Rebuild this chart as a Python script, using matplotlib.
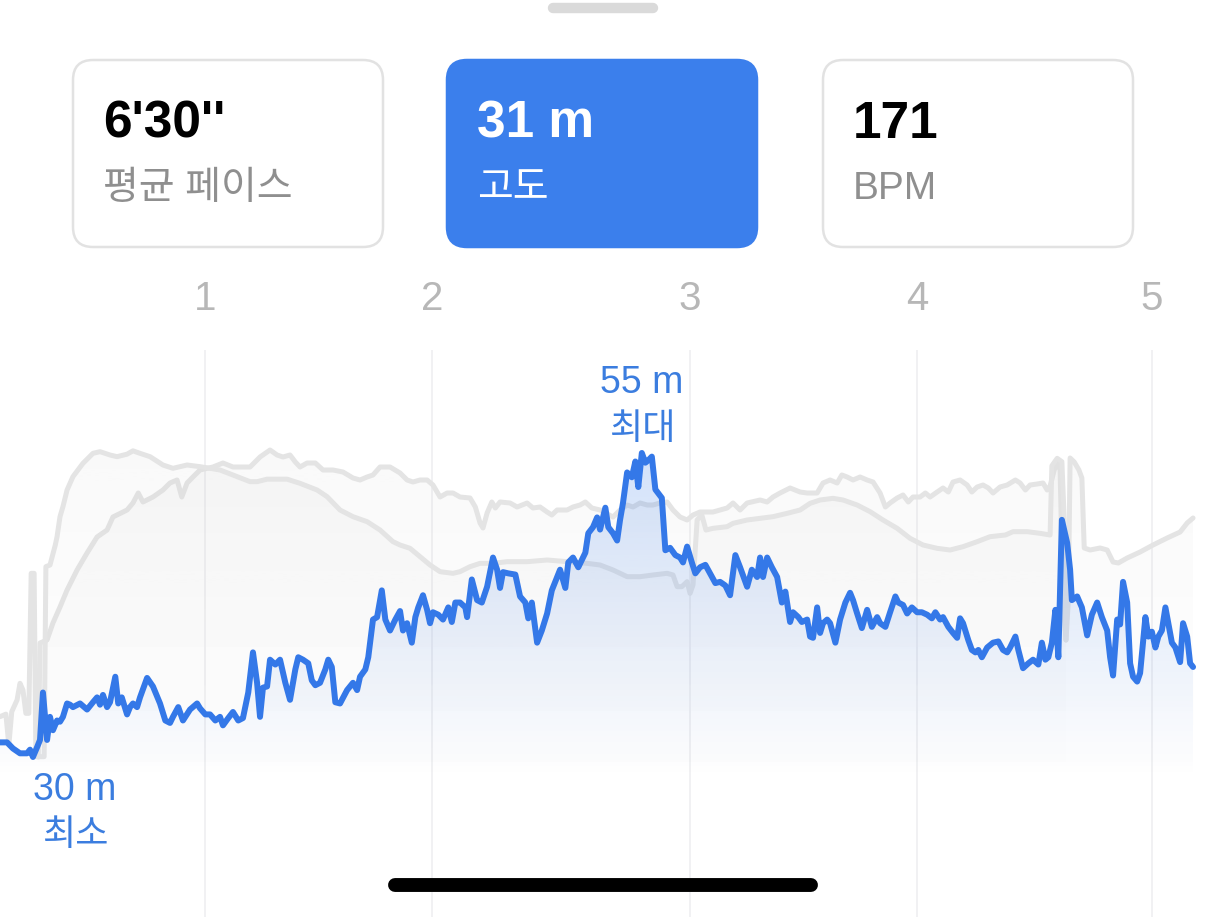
import numpy as np
import matplotlib
matplotlib.use("Agg")
import matplotlib.pyplot as plt
from matplotlib.patches import FancyBboxPatch, PathPatch
from matplotlib.colors import to_rgb

# ---------------- data ----------------
# elapsed time (s) and elevation (m)
elev_time_s = [
    0, 12, 22, 34, 46, 51, 56, 63, 68, 73,
    80, 85, 90, 97, 102, 107, 114, 119, 124, 136,
    148, 158, 165, 170, 175, 182, 187, 196, 201, 207,
    216, 221, 226, 233, 238, 250, 260, 272, 281, 289,
    294, 303, 311, 323, 335, 340, 349, 357, 366, 374,
    379, 388, 396, 405, 413, 422, 430, 437, 442, 447,
    454, 459, 468, 476, 485, 493, 502, 507, 515, 524,
    530, 536, 544, 553, 558, 564, 570, 578, 590, 600,
    607, 612, 621, 626, 634, 641, 649, 655, 663, 672,
    680, 685, 692, 700, 706, 711, 719, 726, 731, 736,
    745, 753, 762, 768, 774, 782, 791, 794, 802, 811,
    819, 828, 838, 845, 850, 855, 864, 876, 884, 893,
    898, 904, 913, 921, 930, 938, 947, 952, 961, 966,
    974, 983, 989, 995, 1000, 1008, 1015, 1020, 1029, 1034,
    1042, 1049, 1054, 1059, 1066, 1074, 1080, 1085, 1091, 1097,
    1102, 1108, 1114, 1125, 1131, 1139, 1148, 1156, 1161, 1168,
    1176, 1182, 1190, 1199, 1207, 1216, 1224, 1233, 1241, 1250,
    1258, 1270, 1278, 1287, 1292, 1297, 1304, 1312, 1321, 1329,
    1335, 1343, 1348, 1357, 1363, 1372, 1377, 1382, 1389, 1394,
    1399, 1406, 1411, 1420, 1428, 1437, 1445, 1450, 1457, 1465,
    1474, 1482, 1491, 1496, 1505, 1513, 1522, 1527, 1535, 1542,
    1550, 1559, 1567, 1576, 1584, 1590, 1598, 1603, 1612, 1620,
    1627, 1632, 1637, 1646, 1652, 1658, 1663, 1669, 1678, 1688,
    1697, 1705, 1712, 1717, 1726, 1731, 1739, 1748, 1756, 1765,
    1771, 1777, 1782, 1788, 1794, 1799, 1805, 1814, 1819, 1822,
    1831, 1839, 1848, 1856, 1865, 1873, 1882, 1887, 1892, 1899,
    1904, 1909, 1916, 1921, 1926, 1933, 1938, 1947, 1952, 1958,
    1964, 1969, 1975, 1981, 1986, 1992, 1998, 2006, 2011, 2018,
    2023, 2028,
]
elev_m = [
    31.2, 31.2, 30.7, 30.3, 30.3, 30.6, 30.0, 30.8, 31.4, 35.3,
    31.4, 33.3, 32.2, 33.0, 32.9, 33.3, 34.4, 34.3, 34.1, 34.4,
    33.9, 34.5, 34.9, 34.3, 35.1, 34.1, 34.5, 36.6, 34.4, 34.9,
    33.5, 34.1, 34.4, 34.1, 34.9, 36.5, 35.8, 34.4, 33.0, 32.8,
    33.3, 34.1, 33.0, 33.9, 34.4, 34.0, 33.5, 33.5, 33.0, 33.3,
    32.6, 33.2, 33.7, 33.0, 33.2, 35.3, 38.6, 36.1, 33.3, 35.7,
    35.8, 38.0, 37.6, 38.0, 36.1, 34.7, 37.2, 38.2, 38.0, 37.7,
    36.3, 35.9, 36.1, 37.2, 38.0, 37.4, 34.5, 34.4, 35.5, 36.1,
    35.5, 36.6, 37.2, 38.2, 41.3, 41.5, 43.7, 41.3, 40.4, 41.3,
    42.0, 40.4, 41.0, 39.4, 41.5, 42.3, 43.3, 42.1, 41.0, 41.9,
    41.7, 41.3, 42.3, 41.1, 42.7, 42.7, 42.3, 41.5, 44.6, 42.9,
    42.7, 44.0, 46.4, 45.4, 43.9, 45.2, 45.1, 45.0, 43.2, 42.7,
    41.4, 42.7, 39.4, 40.4, 41.8, 43.7, 44.8, 45.4, 43.9, 46.0,
    46.4, 45.6, 46.2, 46.8, 48.4, 48.9, 49.7, 48.7, 50.5, 48.9,
    48.4, 47.8, 49.5, 50.9, 53.4, 53.0, 54.3, 52.2, 55.0, 54.2,
    54.4, 54.7, 52.0, 51.3, 47.0, 47.2, 46.6, 46.4, 46.0, 47.3,
    46.0, 45.1, 45.6, 45.8, 45.1, 44.3, 44.4, 44.1, 43.3, 46.6,
    45.6, 44.0, 45.4, 44.8, 46.4, 44.8, 46.4, 45.6, 44.8, 42.7,
    43.6, 41.1, 41.9, 41.5, 41.1, 41.3, 39.9, 39.8, 42.3, 40.2,
    41.0, 41.3, 41.0, 39.4, 41.3, 42.7, 43.5, 42.9, 41.8, 40.6,
    42.1, 40.7, 41.5, 41.0, 40.7, 41.9, 43.2, 42.7, 42.5, 41.8,
    42.3, 41.9, 41.9, 41.7, 41.4, 41.9, 41.3, 41.5, 40.7, 40.2,
    39.8, 41.4, 41.0, 39.6, 38.8, 38.6, 38.8, 38.2, 39.0, 39.4,
    39.5, 38.8, 38.6, 39.0, 39.9, 38.8, 37.3, 37.7, 38.0, 37.6,
    39.4, 38.0, 38.2, 39.4, 42.1, 38.2, 49.5, 47.6, 45.4, 42.9,
    43.2, 42.3, 40.0, 41.7, 42.7, 41.5, 40.4, 38.2, 36.7, 41.3,
    40.9, 44.4, 42.7, 37.7, 36.6, 36.2, 36.9, 41.5, 39.9, 40.3,
    39.0, 39.9, 40.4, 42.3, 41.0, 39.4, 39.0, 37.8, 41.0, 39.9,
    37.7, 37.4,
]

# heart rate (bpm), grey background series
hr_time_s = [
    65, 68, 80, 90, 102, 114, 131, 148, 165, 182,
    192, 216, 226, 235, 243, 260, 277, 289, 301, 309,
    318, 328, 340, 362, 379, 396, 425, 442, 459, 471,
    481, 493, 502, 510, 522, 536, 549, 566, 583, 600,
    612, 624, 634, 646, 663, 680, 692, 702, 714, 726,
    736, 748, 760, 770, 782, 799, 808, 816, 821, 828,
    836, 842, 850, 867, 879, 896, 906, 918, 930, 938,
    947, 964, 974, 986, 995, 1006, 1020, 1042, 1054, 1066,
    1076, 1088, 1100, 1110, 1122, 1134, 1144, 1156, 1168, 1178,
    1190, 1212, 1236, 1246, 1258, 1270, 1292, 1304, 1314, 1326,
    1343, 1360, 1372, 1389, 1399, 1411, 1423, 1431, 1440, 1450,
    1462, 1474, 1484, 1496, 1505, 1513, 1525, 1535, 1544, 1552,
    1564, 1573, 1581, 1593, 1603, 1612, 1620, 1632, 1644, 1652,
    1661, 1671, 1680, 1688, 1700, 1712, 1726, 1734, 1743, 1751,
    1763, 1773, 1780, 1785, 1792, 1797, 1802, 1807, 1812, 1816,
    1819, 1826, 1834, 1839, 1843, 1853, 1870, 1882, 1892, 1901,
    1916, 1938, 1960, 1984, 2006, 2018, 2028,
]
hr_bpm = [
    118.6, 141.4, 142.0, 145.4, 148.6, 152.0, 156.0, 159.4, 162.6, 164.0,
    166.6, 168.0, 169.4, 171.4, 169.6, 170.6, 172.0, 173.4, 174.0, 170.6,
    173.4, 174.6, 176.0, 176.6, 177.4, 176.6, 176.6, 178.6, 180.0, 179.0,
    178.6, 179.0, 177.6, 176.6, 177.4, 177.4, 176.0, 176.0, 175.6, 174.4,
    174.0, 174.6, 175.0, 176.6, 176.6, 175.4, 174.0, 173.6, 174.0, 174.0,
    173.0, 170.6, 171.4, 171.4, 170.6, 170.4, 168.6, 165.4, 164.4, 167.4,
    169.6, 168.4, 169.6, 169.4, 168.6, 169.4, 168.4, 168.6, 167.6, 167.0,
    168.0, 168.0, 168.6, 169.0, 169.6, 168.4, 168.0, 166.6, 168.0, 169.0,
    168.6, 169.4, 169.0, 169.0, 169.4, 169.6, 168.0, 166.6, 166.0, 167.0,
    167.6, 167.6, 168.4, 169.4, 168.0, 169.4, 170.0, 169.6, 170.6, 171.4,
    172.4, 171.6, 171.4, 171.4, 173.4, 174.0, 173.4, 175.0, 174.6, 174.0,
    174.6, 174.0, 173.6, 171.4, 168.6, 169.4, 170.4, 171.0, 169.6, 170.6,
    170.6, 171.4, 170.6, 171.6, 172.4, 171.6, 173.6, 174.0, 173.0, 171.6,
    172.6, 173.0, 172.4, 171.4, 172.6, 173.0, 174.0, 173.4, 172.0, 173.0,
    173.2, 173.4, 172.0, 172.8, 176.0, 177.6, 176.0, 150.0, 142.0, 150.0,
    178.4, 177.6, 176.0, 174.4, 160.4, 160.0, 160.4, 160.0, 157.6, 157.4,
    158.4, 159.6, 161.0, 162.4, 163.6, 165.4, 166.4,
]

# running speed (km/h), grey background series
speed_time_s = [
    0, 10, 15, 20, 29, 34, 39, 44, 49, 53,
    58, 61, 75, 78, 85, 94, 97, 102, 107, 114,
    124, 141, 158, 170, 187, 199, 216, 226, 238, 255,
    277, 294, 318, 340, 374, 396, 425, 437, 454, 488,
    510, 539, 556, 578, 600, 624, 646, 668, 680, 697,
    714, 731, 748, 770, 782, 799, 816, 838, 862, 896,
    930, 964, 998, 1020, 1042, 1066, 1088, 1110, 1134, 1144,
    1151, 1159, 1168, 1173, 1178, 1185, 1193, 1200, 1212, 1236,
    1246, 1270, 1292, 1314, 1338, 1360, 1377, 1394, 1416, 1433,
    1457, 1479, 1501, 1525, 1547, 1569, 1593, 1615, 1637, 1661,
    1683, 1709, 1722, 1746, 1768, 1785, 1788, 1797, 1805, 1809,
    1812,
]
speed_kmh = [
    7.30, 7.33, 6.96, 7.36, 7.50, 7.70, 7.62, 7.34, 7.34, 9.02,
    9.02, 6.82, 6.82, 9.10, 9.12, 9.36, 9.46, 9.70, 9.82, 10.02,
    10.18, 10.34, 10.46, 10.48, 10.44, 10.42, 10.45, 10.49, 10.46, 10.42,
    10.32, 10.28, 10.32, 10.30, 10.26, 10.20, 10.12, 10.12, 10.15, 10.15,
    10.10, 10.02, 9.94, 9.78, 9.70, 9.64, 9.54, 9.40, 9.36, 9.32,
    9.22, 9.12, 9.04, 9.02, 9.04, 9.10, 9.14, 9.14, 9.16, 9.16,
    9.18, 9.16, 9.14, 9.12, 9.06, 8.98, 8.98, 9.00, 9.02, 9.00,
    8.86, 8.86, 8.92, 8.78, 8.88, 9.66, 9.72, 9.54, 9.56, 9.58,
    9.62, 9.66, 9.68, 9.70, 9.74, 9.78, 9.86, 9.90, 9.92, 9.90,
    9.84, 9.76, 9.66, 9.56, 9.44, 9.36, 9.32, 9.30, 9.34, 9.40,
    9.46, 9.48, 9.52, 9.52, 9.50, 9.48, 10.31, 10.40, 10.36, 9.66,
    8.22,
]

# km split markers (elapsed seconds) and their labels
km_marks_s = [349, 734, 1173, 1559, 1958]
km_labels = ["1", "2", "3", "4", "5"]

# summary cards
card_values = ["6'30''", "31 m", "171"]
card_labels = ["평균 페이스", "고도", "BPM"]
selected_card = 1

# ---------------- style ----------------
FONT = ["Liberation Sans", "Noto Sans CJK KR"]
plt.rcParams["font.family"] = FONT

BLUE = "#3478e8"
BLUE_TXT = "#3b7ddf"
CARD_BLUE = "#3b7fec"
GREY_LINE = "#e4e4e4"
W, H = 1206, 917

fig = plt.figure(figsize=(W / 100, H / 100), dpi=100, facecolor="white")


def overlay_axes():
    ax = fig.add_axes([0, 0, 1, 1])
    ax.set_axis_off()
    ax.patch.set_alpha(0)
    return ax


ax_hr = overlay_axes()
ax_spd = overlay_axes()
ax_el = overlay_axes()
ui = overlay_axes()

X_LIM = (0, 2050)
EL_LIM = (16.84, 92.25)
HR_LIM = (86.6, 270.0)
SPD_LIM = (4.896, 15.9)


def gradient_fill(ax, x, y, color, a_top, y_top, y_bot, y_floor, zorder):
    x = np.asarray(x, float)
    y = np.asarray(y, float)
    poly = ax.fill_between(x, y, y_floor, facecolor="none", edgecolor="none")
    path = poly.get_paths()[0]
    clip = PathPatch(path, transform=ax.transData, facecolor="none", edgecolor="none")
    ax.add_patch(clip)
    n = 256
    img = np.zeros((n, 1, 4))
    img[:, 0, :3] = to_rgb(color)
    img[:, 0, 3] = np.linspace(0, a_top, n)
    im = ax.imshow(img, extent=[x.min(), x.max(), y_bot, y_top], origin="lower",
                   aspect="auto", interpolation="bilinear", zorder=zorder)
    im.set_clip_path(clip)


# vertical km gridlines (bottom layer)
ax_hr.vlines(km_marks_s, 0, 1 - 350 / H, transform=ax_hr.get_xaxis_transform(),
             color="#f0f0f2", lw=1.3, zorder=0)
for t, lab in zip(km_marks_s, km_labels):
    ax_hr.text(t, 1 - 310 / H, lab, transform=ax_hr.get_xaxis_transform(),
               ha="center", va="baseline", fontsize=29, color="#b7b7b7")

# grey series
gradient_fill(ax_hr, hr_time_s, hr_bpm, "#c8c8c8", 0.10, 180, 115, HR_LIM[0], 1)
ax_hr.plot(hr_time_s, hr_bpm, color=GREY_LINE, lw=3.6,
           solid_joinstyle="round", solid_capstyle="round", zorder=2)
gradient_fill(ax_spd, speed_time_s, speed_kmh, "#c8c8c8", 0.10, 10.5, 6.6, SPD_LIM[0], 1)
ax_spd.plot(speed_time_s, speed_kmh, color=GREY_LINE, lw=3.6,
            solid_joinstyle="round", solid_capstyle="round", zorder=2)

# elevation series
gradient_fill(ax_el, elev_time_s, elev_m, BLUE, 0.22, 55.3, 28.3, EL_LIM[0], 1)
ax_el.plot(elev_time_s, elev_m, color=BLUE, lw=4.3,
           solid_joinstyle="round", solid_capstyle="round", zorder=3)

i_max = int(np.argmax(elev_m))
i_min = int(np.argmin(elev_m))
t_max, e_max = elev_time_s[i_max], elev_m[i_max]
t_min, e_min = elev_time_s[i_min], elev_m[i_min]

ax_el.annotate(f"{e_max:.0f} m", (t_max, e_max), xytext=(0, 60), textcoords="offset pixels",
               ha="center", va="baseline", fontsize=27, color=BLUE_TXT)
ax_el.annotate("최대", (t_max, e_max), xytext=(0, 14), textcoords="offset pixels",
               ha="center", va="baseline", fontsize=26, color=BLUE_TXT)
ax_el.annotate(f"{e_min:.0f} m", (t_min, e_min), xytext=(42, -43), textcoords="offset pixels",
               ha="center", va="baseline", fontsize=27, color=BLUE_TXT)
ax_el.annotate("최소", (t_min, e_min), xytext=(42, -88), textcoords="offset pixels",
               ha="center", va="baseline", fontsize=26, color=BLUE_TXT)

for ax, lim in ((ax_hr, HR_LIM), (ax_spd, SPD_LIM), (ax_el, EL_LIM)):
    ax.set_xlim(*X_LIM)
    ax.set_ylim(*lim)

# ---------------- UI chrome (pixel space) ----------------
ui.set_xlim(0, W)
ui.set_ylim(H, 0)

ui.plot([553, 653], [8, 8], color="#dadada", lw=7.5, solid_capstyle="round")
ui.plot([395, 811], [885, 885], color="black", lw=10, solid_capstyle="round")

card_x = [73, 447, 823]
card_w = 310
for i, (x0, val, lab) in enumerate(zip(card_x, card_values, card_labels)):
    sel = i == selected_card
    box = FancyBboxPatch((x0, 60), card_w, 187, boxstyle="round,pad=0,rounding_size=20",
                         facecolor=CARD_BLUE if sel else "white",
                         edgecolor=CARD_BLUE if sel else "#e2e2e2",
                         lw=1.8, zorder=1)
    ui.add_patch(box)
    ui.text(x0 + 30, 138, val, ha="left", va="baseline", fontsize=37, fontweight="bold",
            color="white" if sel else "black", zorder=2)
    ui.text(x0 + 30, 199, lab, ha="left", va="baseline", fontsize=28,
            color="white" if sel else "#8f8f8f", zorder=2)

fig.savefig("out.png", dpi=100, facecolor="white")
